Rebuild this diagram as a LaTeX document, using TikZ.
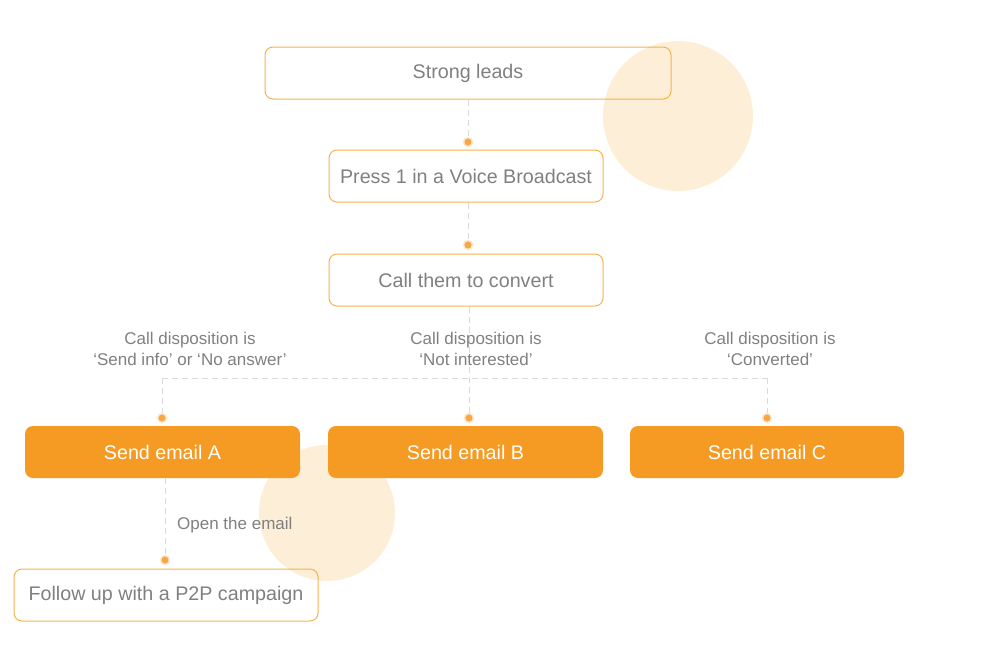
\documentclass[tikz,border=0pt]{standalone}
\usepackage{fontspec}
\setmainfont{Liberation Sans}
\begin{document}
\begin{tikzpicture}[x=1pt,y=-1pt,
  lbox/.style={draw=borderor, line width=1pt, rounded corners=8pt, fill=none, text=txtgray, font=\fontsize{19.7}{24}\selectfont},
  obox/.style={draw=none, rounded corners=8pt, fill=fillor, text=white, font=\fontsize{19.7}{24}\selectfont},
  conn/.style={draw=lingray, line width=1pt, dash pattern=on 6pt off 4pt},
  dotn/.style={circle, fill=dotor, inner sep=0pt, minimum size=9pt, draw=dotor!25, line width=1.5pt},
  lab/.style={text=txtgray, font=\fontsize{17}{21}\selectfont, align=center, inner sep=0pt}
]
\definecolor{borderor}{HTML}{F6B24E}
\definecolor{fillor}{HTML}{F59B23}
\definecolor{txtgray}{HTML}{808080}
\definecolor{lingray}{HTML}{DADADA}
\definecolor{dotor}{HTML}{F7A844}
\definecolor{circ}{HTML}{FDEFD7}
\useasboundingbox (0,0) rectangle (1000,667);
% background circles
\fill[circ] (678,116) circle (75);
\fill[circ] (327,513) circle (68);
% nodes
\node[lbox, minimum width=406pt, minimum height=52pt] (lead) at (468,73) {Strong leads};
\node[lbox, minimum width=274pt, minimum height=52pt] (press) at (466,176) {Press 1 in a Voice Broadcast};
\node[lbox, minimum width=274pt, minimum height=52pt] (call) at (466,280) {Call them to convert};
\node[obox, minimum width=275pt, minimum height=52pt] (ea) at (162.5,452) {Send email A};
\node[obox, minimum width=275pt, minimum height=52pt] (eb) at (465.5,452) {Send email B};
\node[obox, minimum width=274pt, minimum height=52pt] (ec) at (767,452) {Send email C};
\node[lbox, minimum width=304pt, minimum height=52pt] (fu) at (166,595) {Follow up with a P2P campaign};
% dots
\node[dotn] (d1) at (468,142) {};
\node[dotn] (d2) at (468,245) {};
\node[dotn] (da) at (162,418) {};
\node[dotn] (db) at (469,418) {};
\node[dotn] (dc) at (767,418) {};
\node[dotn] (df) at (165,560) {};
\coordinate (ja) at (162,378);
\coordinate (jc) at (767,378);
% connectors
\draw[conn] (lead.south -| d1) -- (d1);
\draw[conn] (press.south -| d2) -- (d2);
\draw[conn] (call.south -| db) -- (db);
\draw[conn] (ja) -- (jc);
\draw[conn] (ja) -- (da);
\draw[conn] (jc) -- (dc);
\draw[conn] (ea.south -| df) -- (df);
% labels
\node[lab] (la) at (190,349) {Call disposition is\\‘Send info’ or ‘No answer’};
\node[lab] (lb) at (476,349) {Call disposition is\\‘Not interested’};
\node[lab] (lc) at (770,349) {Call disposition is\\‘Converted’};
\node[lab, anchor=west] (lo) at (177,525) {Open the email};
\end{tikzpicture}
\end{document}
